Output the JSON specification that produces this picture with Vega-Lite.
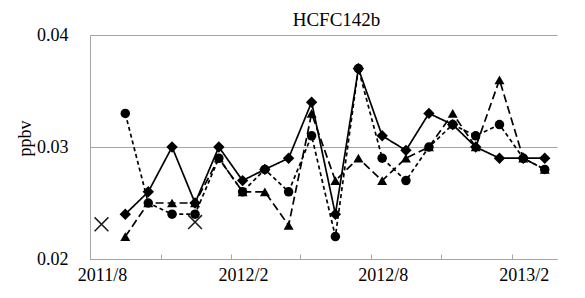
{
  "$schema": "https://vega.github.io/schema/vega-lite/v6.json",
  "width": 467,
  "height": 224,
  "autosize": {"type": "none"},
  "padding": {"left": 90, "top": 35, "right": 28, "bottom": 39},
  "background": "white",
  "config": {"view": {"stroke": null}, "font": "Liberation Serif"},
  "title": {"text": "HCFC142b", "fontSize": 19, "font": "Liberation Serif", "fontWeight": "normal", "color": "black", "anchor": "middle", "dx": 13, "offset": 13, "dy": 17},
  "data": {"values": [
    {"d": "2011/09/16", "s": "diamond", "v": 0.024},
    {"d": "2011/10/16", "s": "diamond", "v": 0.026},
    {"d": "2011/11/16", "s": "diamond", "v": 0.030},
    {"d": "2011/12/16", "s": "diamond", "v": 0.025},
    {"d": "2012/01/16", "s": "diamond", "v": 0.030},
    {"d": "2012/02/16", "s": "diamond", "v": 0.027},
    {"d": "2012/03/16", "s": "diamond", "v": 0.028},
    {"d": "2012/04/16", "s": "diamond", "v": 0.029},
    {"d": "2012/05/16", "s": "diamond", "v": 0.034},
    {"d": "2012/06/16", "s": "diamond", "v": 0.024},
    {"d": "2012/07/16", "s": "diamond", "v": 0.037},
    {"d": "2012/08/16", "s": "diamond", "v": 0.031},
    {"d": "2012/09/16", "s": "diamond", "v": 0.0297},
    {"d": "2012/10/16", "s": "diamond", "v": 0.033},
    {"d": "2012/11/16", "s": "diamond", "v": 0.032},
    {"d": "2012/12/16", "s": "diamond", "v": 0.030},
    {"d": "2013/01/16", "s": "diamond", "v": 0.029},
    {"d": "2013/02/16", "s": "diamond", "v": 0.029},
    {"d": "2013/03/16", "s": "diamond", "v": 0.029},
    {"d": "2011/09/16", "s": "triangle", "v": 0.022},
    {"d": "2011/10/16", "s": "triangle", "v": 0.025},
    {"d": "2011/11/16", "s": "triangle", "v": 0.025},
    {"d": "2011/12/16", "s": "triangle", "v": 0.025},
    {"d": "2012/01/16", "s": "triangle", "v": 0.029},
    {"d": "2012/02/16", "s": "triangle", "v": 0.026},
    {"d": "2012/03/16", "s": "triangle", "v": 0.026},
    {"d": "2012/04/16", "s": "triangle", "v": 0.023},
    {"d": "2012/05/16", "s": "triangle", "v": 0.033},
    {"d": "2012/06/16", "s": "triangle", "v": 0.027},
    {"d": "2012/07/16", "s": "triangle", "v": 0.029},
    {"d": "2012/08/16", "s": "triangle", "v": 0.027},
    {"d": "2012/09/16", "s": "triangle", "v": 0.029},
    {"d": "2012/10/16", "s": "triangle", "v": 0.030},
    {"d": "2012/11/16", "s": "triangle", "v": 0.033},
    {"d": "2012/12/16", "s": "triangle", "v": 0.030},
    {"d": "2013/01/16", "s": "triangle", "v": 0.036},
    {"d": "2013/02/16", "s": "triangle", "v": 0.029},
    {"d": "2013/03/16", "s": "triangle", "v": 0.028},
    {"d": "2011/09/16", "s": "circle", "v": 0.033},
    {"d": "2011/10/16", "s": "circle", "v": 0.025},
    {"d": "2011/11/16", "s": "circle", "v": 0.024},
    {"d": "2011/12/16", "s": "circle", "v": 0.024},
    {"d": "2012/01/16", "s": "circle", "v": 0.029},
    {"d": "2012/02/16", "s": "circle", "v": 0.026},
    {"d": "2012/03/16", "s": "circle", "v": 0.028},
    {"d": "2012/04/16", "s": "circle", "v": 0.026},
    {"d": "2012/05/16", "s": "circle", "v": 0.031},
    {"d": "2012/06/16", "s": "circle", "v": 0.022},
    {"d": "2012/07/16", "s": "circle", "v": 0.037},
    {"d": "2012/08/16", "s": "circle", "v": 0.029},
    {"d": "2012/09/16", "s": "circle", "v": 0.027},
    {"d": "2012/10/16", "s": "circle", "v": 0.030},
    {"d": "2012/11/16", "s": "circle", "v": 0.032},
    {"d": "2012/12/16", "s": "circle", "v": 0.031},
    {"d": "2013/01/16", "s": "circle", "v": 0.032},
    {"d": "2013/02/16", "s": "circle", "v": 0.029},
    {"d": "2013/03/16", "s": "circle", "v": 0.028},
    {"d": "2011/08/16", "s": "x", "v": 0.0231},
    {"d": "2011/12/16", "s": "x", "v": 0.0233}
  ]},
  "encoding": {
    "x": {
      "field": "d", "type": "temporal",
      "scale": {"domain": [{"year": 2011, "month": 8, "date": 1}, {"year": 2013, "month": 4, "date": 1}]},
      "axis": {
        "title": null,
        "values": [
          {"year": 2011, "month": 8, "date": 1}, {"year": 2011, "month": 11, "date": 1},
          {"year": 2012, "month": 2, "date": 1}, {"year": 2012, "month": 5, "date": 1},
          {"year": 2012, "month": 8, "date": 1}, {"year": 2012, "month": 11, "date": 1},
          {"year": 2013, "month": 2, "date": 1}
        ],
        "labelExpr": "(month(datum.value) == 1 || month(datum.value) == 7) ? (timeFormat(datum.value, '%Y') + '/' + (month(datum.value) + 1)) : ''",
        "labelOffset": 12,
        "labelFont": "Liberation Serif", "labelFontSize": 18, "labelColor": "black",
        "labelPadding": 12, "labelOverlap": false, "labelFlush": false, "labelBound": false,
        "grid": false,
        "domainColor": "#a6a6a6", "tickColor": "#a6a6a6", "tickSize": -5, "ticks": true
      }
    },
    "y": {
      "field": "v", "type": "quantitative",
      "scale": {"domain": [0.02, 0.04], "nice": false, "zero": false},
      "axis": {
        "title": "ppbv", "titleFont": "Liberation Serif", "titleFontSize": 18, "titleFontWeight": "normal", "titleColor": "black",
        "titleX": -65, "titleY": 103, "titleAngle": -90, "titleAlign": "center", "titleBaseline": "middle",
        "values": [0.02, 0.03, 0.04], "format": ".2f",
        "labelFont": "Liberation Serif", "labelFontSize": 18, "labelColor": "black", "labelPadding": 22,
        "ticks": false, "grid": true, "gridColor": "#a6a6a6", "gridWidth": 1,
        "domainColor": "#a6a6a6"
      }
    }
  },
  "layer": [
    {
      "transform": [{"filter": "datum.s != 'x'"}],
      "mark": {"type": "line", "color": "black", "strokeWidth": 1.7},
      "encoding": {
        "detail": {"field": "s"},
        "strokeDash": {"field": "s", "type": "nominal", "legend": null,
          "scale": {"domain": ["diamond", "triangle", "circle"], "range": [[1, 0], [8, 4], [4, 3]]}}
      }
    },
    {
      "transform": [{"filter": "datum.s == 'diamond'"}],
      "mark": {"type": "point", "filled": true, "opacity": 1, "color": "black", "shape": "diamond", "size": 130},
      "encoding": {}
    },
    {
      "transform": [{"filter": "datum.s == 'triangle'"}],
      "mark": {"type": "point", "filled": true, "opacity": 1, "color": "black", "shape": "triangle-up", "size": 100},
      "encoding": {}
    },
    {
      "transform": [{"filter": "datum.s == 'circle'"}],
      "mark": {"type": "point", "filled": true, "opacity": 1, "color": "black", "shape": "circle", "size": 90},
      "encoding": {}
    },
    {
      "transform": [{"filter": "datum.s == 'x'"}],
      "mark": {"type": "point", "filled": false, "opacity": 1, "shape": "M-1,-1L1,1M-1,1L1,-1", "size": 190, "stroke": "#1a1a1a", "strokeWidth": 1.5},
      "encoding": {}
    }
  ]
}
